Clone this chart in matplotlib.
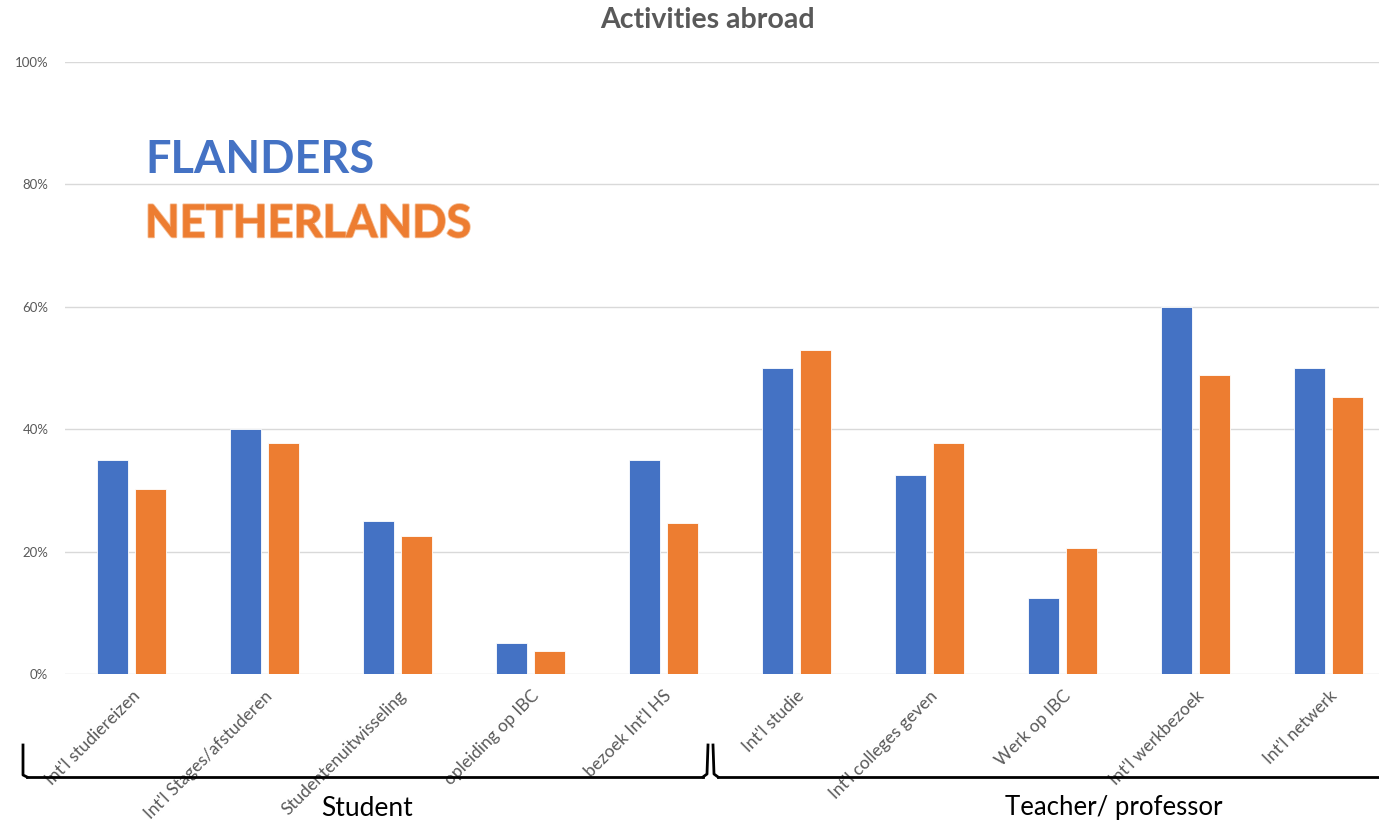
import numpy as np
import matplotlib
matplotlib.use("Agg")
import matplotlib.pyplot as plt
import matplotlib.patheffects as pe
from matplotlib.ticker import PercentFormatter

categories = ["Int'l studiereizen", "Int'l Stages/afstuderen", "Studentenuitwisseling",
              "opleiding op IBC", "bezoek Int'l HS", "Int'l studie", "Int'l colleges geven",
              "Werk op IBC", "Int'l werkbezoek", "Int'l netwerk"]
flanders = [35, 40, 25, 5, 35, 50, 32.5, 12.5, 60, 50]
netherlands = [30.2, 37.7, 22.6, 3.8, 24.6, 52.9, 37.7, 20.6, 48.9, 45.2]
groups = ["Student", "Teacher/ professor"]

BLUE = "#4472C4"
ORANGE = "#ED7D31"

plt.rcParams['font.family'] = ['Lato', 'DejaVu Sans']

fig = plt.figure(figsize=(13.79, 8.23), dpi=100)
# plot area runs a little past the right edge, as in the reference
ax = fig.add_axes([65 / 1379, (823 - 674) / 823, 1330 / 1379, 612 / 823])

x = np.arange(len(categories))
w = 0.226
off = 0.143
ax.bar(x - off, flanders, w, color=BLUE, edgecolor="white", linewidth=0.6, zorder=3)
ax.bar(x + off, netherlands, w, color=ORANGE, edgecolor="white", linewidth=0.6, zorder=3)

ax.set_xlim(-0.5, len(categories) - 0.5)
ax.set_ylim(0, 100)
ax.set_yticks(np.arange(0, 101, 20))
ax.yaxis.set_major_formatter(PercentFormatter(decimals=0))
ax.grid(axis="y", color="#d9d9d9", linewidth=1, zorder=0)
for s in ax.spines.values():
    s.set_visible(False)
ax.tick_params(axis="y", length=0, labelsize=9.5, labelcolor="#595959", pad=12)
ax.tick_params(axis="x", length=0, pad=10)
ax.set_xticks(x)
ax.set_xticklabels(categories, rotation=45, ha="right", va="top",
                   rotation_mode="anchor", fontsize=12.5, color="#595959")

def fx(px):
    return px / 1379

def fy(py):
    return 1 - py / 823

fig.text(fx(707), fy(20), "Activities abroad", fontsize=20.5, fontweight="bold",
         color="#595959", ha="center", va="center")

ax.text(fx(145 - 65) * 1379 / 1330, 0.84, "FLANDERS", transform=ax.transAxes, fontsize=32.5,
        fontweight="bold", color=BLUE, va="center")
ax.text(fx(145 - 65) * 1379 / 1330, 0.735, "NETHERLANDS", transform=ax.transAxes, fontsize=32.5,
        fontweight="bold", color=ORANGE, va="center",
        path_effects=[pe.withStroke(linewidth=1.5, foreground="#f4b98f"), pe.Normal()])

# group brackets under the category labels
lw = 2
ys_top, ys_bot = 745, 777
# student bracket
fig.add_artist(plt.Line2D([fx(23), fx(23), fx(27)], [fy(ys_top), fy(ys_bot - 2), fy(ys_bot)],
                          color="black", lw=lw))
fig.add_artist(plt.Line2D([fx(27), fx(703)], [fy(ys_bot), fy(ys_bot)], color="black", lw=lw))
fig.add_artist(plt.Line2D([fx(703), fx(707), fx(708)], [fy(ys_bot), fy(ys_bot - 3), fy(ys_top)],
                          color="black", lw=lw))
# teacher bracket
fig.add_artist(plt.Line2D([fx(713), fx(714), fx(718)], [fy(ys_top), fy(ys_bot - 3), fy(ys_bot)],
                          color="black", lw=lw))
fig.add_artist(plt.Line2D([fx(718), fx(1379)], [fy(ys_bot), fy(ys_bot)], color="black", lw=lw))

fig.text(fx(367), fy(808), groups[0], fontsize=19, color="black", ha="center", va="center")
fig.text(fx(1114), fy(808), groups[1], fontsize=18.5, color="black", ha="center", va="center")

fig.savefig("out.png", dpi=100, facecolor="white")
